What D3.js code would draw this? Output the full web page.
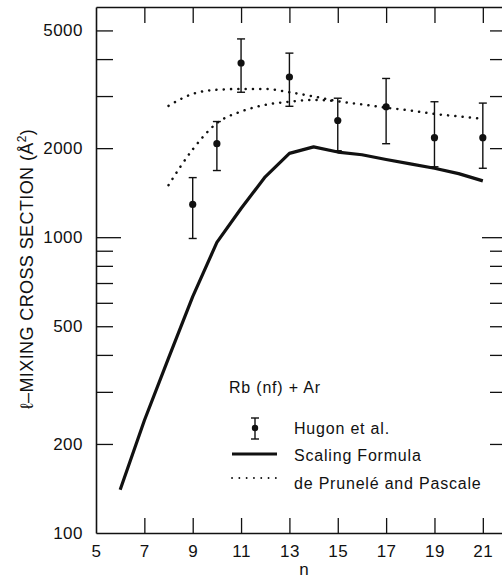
<!doctype html>
<html>
<head>
    <title>l-mixing cross section</title>
    <script src="https://d3js.org/d3.v7.min.js" charset="utf-8"></script>
    <style>
        body { margin: 0; background: #fff; }
        text { font-family: "Liberation Sans", Arial, sans-serif; fill: #111; }
    </style>
</head>
<body>
    <script>
        // x ticks / y ticks
        var nTicks = [5, 7, 9, 11, 13, 15, 17, 19, 21];
        var yTicks = [200, 300, 400, 500, 600, 700, 800, 900, 1000, 2000, 3000, 4000, 5000];
        var yLabels = [100, 200, 500, 1000, 2000, 5000];

        // Hugon et al. (points with error bars)
        var hugonN = [9, 10, 11, 13, 15, 17, 19, 21];
        var hugonVal = [1290, 2070, 3880, 3480, 2480, 2760, 2170, 2170];
        var hugonLo = [990, 1680, 3090, 2770, 1960, 2070, 1730, 1710];
        var hugonHi = [1590, 2460, 4680, 4190, 2950, 3440, 2870, 2840];

        // scaling formula
        var scalingN = [6, 7, 8, 9, 10, 11, 12, 13, 14, 15, 16, 17, 18, 19, 20, 21];
        var scalingVal = [140, 240, 390, 630, 960, 1250, 1600, 1920, 2020, 1940, 1900, 1830, 1770, 1710, 1640, 1550];

        // de Prunele and Pascale (two dotted curves)
        var pascUpperN = [8, 9, 10, 11, 12, 13, 14, 15, 16, 17, 18, 19, 20, 21];
        var pascUpper = [2780, 3050, 3150, 3170, 3170, 3090, 2990, 2880, 2810, 2740, 2680, 2610, 2560, 2510];
        var pascLowerN = [8, 9, 10, 11, 12, 13, 14, 15];
        var pascLower = [1500, 1980, 2430, 2660, 2800, 2870, 2910, 2880];

        var W = 502, H = 580;
        var mLeft = 96, mRight = 507, mTop = 7, mBottom = 533;

        var svg = d3.select("body").append("svg")
            .attr("width", W).attr("height", H);

        var x = d3.scaleLinear().domain([5, 22]).range([mLeft, mRight]);
        var y = d3.scaleLog().domain([100, 6000]).range([mBottom, mTop]);

        function styleAxis(g) {
            g.selectAll("path").attr("stroke", "#111").attr("stroke-width", 1.6);
            g.selectAll("line").attr("stroke", "#111").attr("stroke-width", 1.3);
            g.selectAll("text").attr("font-size", 17).attr("letter-spacing", 0.5)
                .attr("font-family", "'Liberation Sans', Arial, sans-serif").attr("fill", "#111");
        }

        var gl = svg.append("g").attr("transform", "translate(" + mLeft + ",0)")
            .call(d3.axisLeft(y).tickValues([100].concat(yTicks)).tickSize(-17).tickSizeOuter(0).tickPadding(13)
                .tickFormat(function(d) { return yLabels.indexOf(d) >= 0 ? d : ""; }));
        gl.selectAll(".tick").filter(function(d) { return d == 1000; }).select("line").attr("x2", 25);
        gl.selectAll(".tick").filter(function(d) { return d == 100; }).select("line").remove();
        styleAxis(gl);

        var gr = svg.append("g").attr("transform", "translate(" + mRight + ",0)")
            .call(d3.axisRight(y).tickValues(yTicks).tickSize(-17).tickSizeOuter(0).tickFormat(""));
        gr.selectAll(".tick").filter(function(d) { return d == 1000; }).select("line").attr("x2", -25);
        styleAxis(gr);

        var gb = svg.append("g").attr("transform", "translate(0," + mBottom + ")")
            .call(d3.axisBottom(x).tickValues(nTicks).tickSize(-15).tickSizeOuter(0).tickPadding(12)
                .tickFormat(d3.format("d")));
        gb.selectAll(".tick").filter(function(d) { return d == 5; }).select("line").remove();
        styleAxis(gb);

        var gt = svg.append("g").attr("transform", "translate(0," + mTop + ")")
            .call(d3.axisTop(x).tickValues(nTicks.slice(1)).tickSize(-16).tickSizeOuter(0).tickFormat(""));
        styleAxis(gt);

        // axis titles
        svg.append("text")
            .attr("transform", "translate(" + 33 + "," + 269 + ") rotate(-90)")
            .attr("text-anchor", "middle")
            .attr("font-size", 18)
            .attr("letter-spacing", 0.4)
            .html("ℓ–MIXING CROSS SECTION (Å<tspan font-size='12' dy='-7'>2</tspan><tspan dy='7'>)</tspan>");

        svg.append("text")
            .attr("x", 304).attr("y", 575)
            .attr("text-anchor", "middle")
            .attr("font-size", 17)
            .text("n");

        // dotted theory curves
        var lineU = d3.line().curve(d3.curveMonotoneX)
            .x(function(d, i) { return x(pascUpperN[i]); })
            .y(function(d) { return y(d); });
        var lineL = d3.line().curve(d3.curveMonotoneX)
            .x(function(d, i) { return x(pascLowerN[i]); })
            .y(function(d) { return y(d); });

        svg.append("path").attr("d", lineU(pascUpper))
            .attr("fill", "none").attr("stroke", "#111").attr("stroke-width", 2.5)
            .attr("stroke-linecap", "round").attr("stroke-dasharray", "0.1,7.2");
        svg.append("path").attr("d", lineL(pascLower))
            .attr("fill", "none").attr("stroke", "#111").attr("stroke-width", 2.5)
            .attr("stroke-linecap", "round").attr("stroke-dasharray", "0.1,7.2");

        // scaling formula
        var lineS = d3.line()
            .x(function(d, i) { return x(scalingN[i]); })
            .y(function(d) { return y(d); });
        svg.append("path").attr("d", lineS(scalingVal))
            .attr("fill", "none").attr("stroke", "#111").attr("stroke-width", 3.2)
            .attr("stroke-linejoin", "round");

        // Hugon et al. error bars
        var cap = 4;
        var eb = svg.append("g").attr("stroke", "#111").attr("stroke-width", 1.4);
        for (var i = 0; i < hugonN.length; i++) {
            var cx = x(hugonN[i]);
            eb.append("line").attr("x1", cx).attr("x2", cx).attr("y1", y(hugonLo[i])).attr("y2", y(hugonHi[i]));
            eb.append("line").attr("x1", cx - cap).attr("x2", cx + cap).attr("y1", y(hugonLo[i])).attr("y2", y(hugonLo[i]));
            eb.append("line").attr("x1", cx - cap).attr("x2", cx + cap).attr("y1", y(hugonHi[i])).attr("y2", y(hugonHi[i]));
            svg.append("circle").attr("cx", cx).attr("cy", y(hugonVal[i])).attr("r", 3.6).attr("fill", "#111");
        }

        // legend
        var lg = svg.append("g");
        lg.append("text").attr("x", 229).attr("y", 393).attr("font-size", 16).attr("letter-spacing", 0.8).text("Rb (nf) + Ar");

        lg.append("line").attr("x1", 255).attr("x2", 255).attr("y1", 418).attr("y2", 439)
            .attr("stroke", "#111").attr("stroke-width", 1.4);
        lg.append("line").attr("x1", 251).attr("x2", 259).attr("y1", 418).attr("y2", 418)
            .attr("stroke", "#111").attr("stroke-width", 1.4);
        lg.append("line").attr("x1", 251).attr("x2", 259).attr("y1", 439).attr("y2", 439)
            .attr("stroke", "#111").attr("stroke-width", 1.4);
        lg.append("circle").attr("cx", 255).attr("cy", 428).attr("r", 3.2).attr("fill", "#111");
        lg.append("text").attr("x", 294).attr("y", 434).attr("font-size", 16).attr("letter-spacing", 0.8).text("Hugon et al.");

        lg.append("line").attr("x1", 232).attr("x2", 277).attr("y1", 454).attr("y2", 454)
            .attr("stroke", "#111").attr("stroke-width", 3.2);
        lg.append("text").attr("x", 294).attr("y", 461).attr("font-size", 16).attr("letter-spacing", 0.8).text("Scaling Formula");

        lg.append("line").attr("x1", 232).attr("x2", 277).attr("y1", 478).attr("y2", 478)
            .attr("stroke", "#111").attr("stroke-width", 1.8)
            .attr("stroke-linecap", "round").attr("stroke-dasharray", "0.1,7.2");
        lg.append("text").attr("x", 294).attr("y", 489).attr("font-size", 16).attr("letter-spacing", 0.8).text("de Prunelé and Pascale");
    </script>
</body>
</html>
